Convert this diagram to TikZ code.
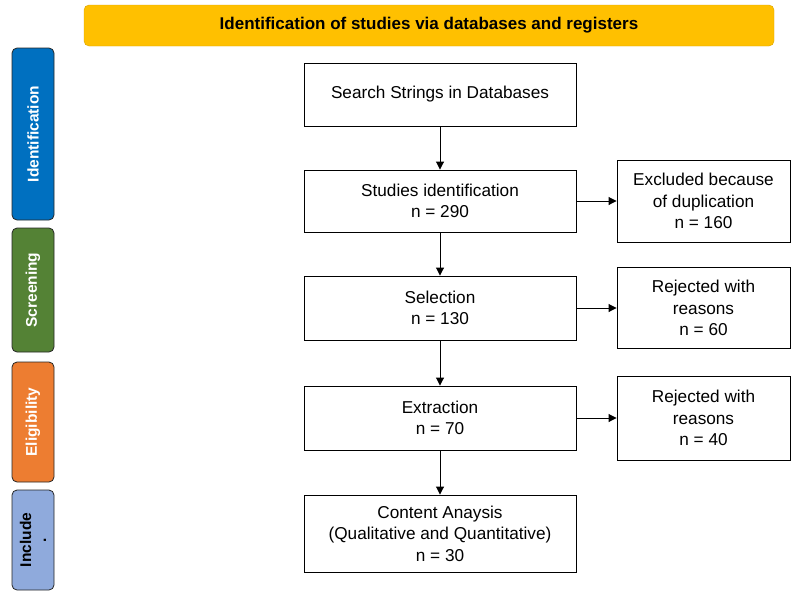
\documentclass[tikz,border=0pt]{standalone}
\usepackage{fontspec}
\setmainfont{Liberation Sans}
\usetikzlibrary{arrows.meta}

\definecolor{titlegold}{HTML}{FFC000}
\definecolor{titleedge}{HTML}{D9A300}
\definecolor{idblue}{HTML}{0070C0}
\definecolor{scrgreen}{HTML}{548235}
\definecolor{eliorange}{HTML}{ED7D31}
\definecolor{inclblue}{HTML}{8FAADC}

\begin{document}
\begin{tikzpicture}[x=1pt, y=-1pt,
		stage/.style={rectangle, draw=black, line width=0.9pt, minimum width=272pt, align=center, font=\fontsize{17.2}{21.5}\selectfont},
		outcome/.style={rectangle, draw=black, line width=0.9pt, minimum width=173pt, align=center, font=\fontsize{17.2}{21.5}\selectfont},
		phase/.style={rectangle, draw=black!85, line width=0.8pt, rounded corners=5pt, rotate=90, minimum height=42pt, align=center, font=\bfseries\fontsize{15.5}{15}\selectfont},
		flow/.style={-{Triangle[length=8pt,width=8pt]}, line width=0.9pt}
		]
		
		\useasboundingbox (0,0) rectangle (791,592);
		
		\node[rectangle, draw=titleedge, fill=titlegold, rounded corners=5pt, minimum width=690pt, minimum height=41pt, font=\bfseries\fontsize{17}{18}\selectfont] (title) at (429,25.5) {Identification of studies via databases and registers};
		
		\node[phase, fill=idblue, text=white, minimum width=172pt] (identification) at (33,134) {Identification};
		\node[phase, fill=scrgreen, text=white, minimum width=124pt] (screening) at (33,290) {Screening};
		\node[phase, fill=eliorange, text=white, minimum width=120pt] (eligibility) at (33,422) {Eligibility};
		\node[phase, fill=inclblue, text=black, minimum width=100pt] (include) at (33,540) {Include\\.};
		
		\node[stage, minimum height=63pt] (search) at (440,94.5) {Search Strings in Databases};
		\node[stage, minimum height=62pt] (ident) at (440,201) {Studies identification\\n = 290};
		\node[stage, minimum height=64pt] (select) at (440,308) {Selection\\n = 130};
		\node[stage, minimum height=64pt] (extract) at (440,418) {Extraction\\n = 70};
		\node[stage, minimum height=77pt] (content) at (440,533.5) {Content Anaysis\\(Qualitative and Quantitative)\\n = 30};
		
		\node[outcome, minimum height=82pt] (dupl) at (703.5,201) {Excluded because\\of duplication\\n = 160};
		\node[outcome, minimum height=81pt] (rejsel) at (703.5,308) {Rejected with\\reasons\\n = 60};
		\node[outcome, minimum height=84pt] (rejext) at (703.5,418) {Rejected with\\reasons\\n = 40};
		
		\foreach \a/\b in {search/ident, ident/select, select/extract, extract/content}
			\draw[flow] (\a.south) -- (\b.north);
		
		\foreach \a/\b in {ident/dupl, select/rejsel, extract/rejext}
			\draw[flow] (\a.east) -- (\b.west);
		
	\end{tikzpicture}
\end{document}
